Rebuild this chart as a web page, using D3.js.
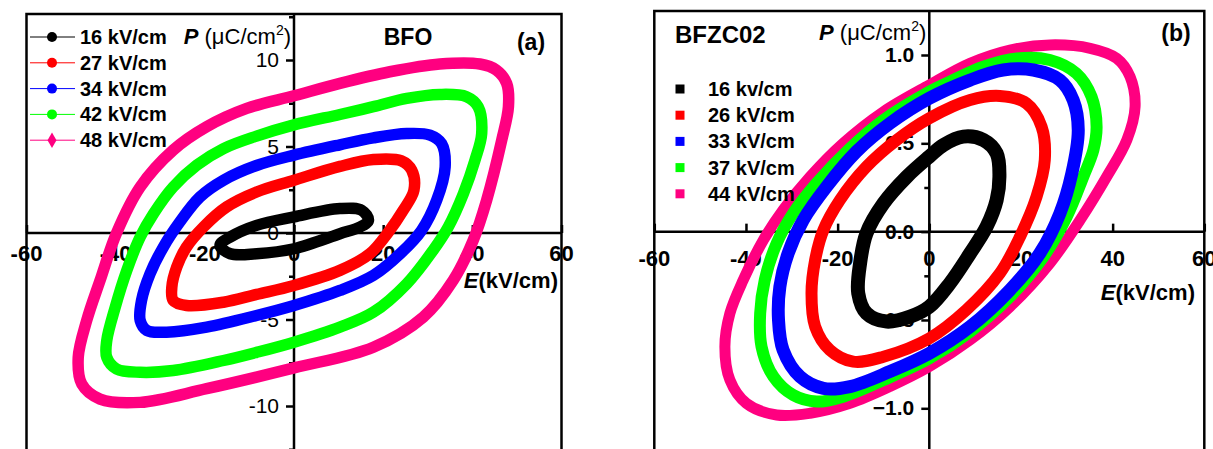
<!DOCTYPE html>
<html><head><meta charset="utf-8">
<script src="https://cdn.jsdelivr.net/npm/d3@7"></script>
<style>
body{margin:0;background:#fff}
svg{display:block}
text{font-family:"Liberation Sans",Arial,sans-serif}
</style>
</head><body>
<svg id="chart" width="1213" height="449"></svg>
<script>
// ---------- data ----------
const xTicks = [-60, -40, -20, 0, 20, 40, 60];
const yTicksA = [-10, -5, 0, 5, 10];
const yMinorA = [-12.5, -7.5, -2.5, 2.5, 7.5, 12.5];
const yTicksB = [-1.0, -0.5, 0.0, 0.5, 1.0];
const yMinorB = [-0.75, -0.25, 0.25, 0.75];
const seriesA = ["16 kV/cm", "27 kV/cm", "34 kV/cm", "42 kV/cm", "48 kV/cm"];
const seriesB = ["16 kv/cm", "26 kV/cm", "33 kV/cm", "37 kV/cm", "44 kV/cm"];
const colors = ["#000000", "#ff0000", "#0000ff", "#00ff00", "#ff0080"];

// Panel (a) BFO loops: [E (kV/cm), P (uC/cm2)]
const loopA16 = [[16.7,0.73],[15.2,1.31],[10.3,1.41],[0,0.93],[-8.4,0.44],[-14.3,-0.23],[-16.6,-0.71],[-14.3,-1.2],[-8.4,-1.2],[0,-0.91],[10.3,-0.04],[14.8,0.35]];
const loopA27 = [[26.9,2.47],[26.4,3.63],[24.1,4.17],[17.8,4.25],[10.3,3.85],[0,3.05],[-8.4,2.37],[-15.1,1.51],[-20.3,0.35],[-24.1,-0.81],[-26.3,-1.97],[-27.4,-3.13],[-27.1,-3.9],[-24.1,-4.19],[-15.8,-4.0],[-8.4,-3.55],[0,-3.03],[10.3,-2.16],[17.0,-1.2],[21.2,0.06],[24.5,1.31]];
const loopA34 = [[33.9,3.82],[33.1,5.17],[30.5,5.66],[25.3,5.75],[17.8,5.5],[10.3,5.1],[0,4.5],[-8.4,3.9],[-15.8,3.05],[-21.1,2.08],[-25.6,0.64],[-29.3,-0.81],[-32.3,-2.36],[-34.2,-3.9],[-34.5,-5.06],[-33.0,-5.64],[-28.6,-5.73],[-19.6,-5.44],[-8.4,-4.77],[0,-4.19],[10.3,-3.32],[17.8,-2.45],[23.8,-1.2],[28.6,0.15],[32.0,1.89]];
const loopA42 = [[42.1,5.75],[41.3,7.3],[38.7,7.88],[32.7,8.01],[25.3,7.78],[17.8,7.3],[10.3,6.85],[0,6.25],[-8.4,5.6],[-15.8,4.88],[-21.8,3.92],[-27.1,2.66],[-31.5,1.12],[-34.5,-0.23],[-37.5,-2.16],[-40.1,-4.29],[-42,-6.22],[-42,-7.18],[-39.8,-7.86],[-34.5,-8.05],[-27.1,-7.95],[-15.8,-7.37],[-8.4,-6.9],[0,-6.31],[10.3,-5.44],[17.8,-4.58],[25.3,-2.93],[31.2,-1.0],[34.6,0.35],[38.0,2.28],[40.6,4.21]];
const loopA48 = [[48.1,7.3],[47.7,8.65],[45.4,9.42],[41.7,9.77],[32.7,9.77],[21.5,9.32],[10.3,8.65],[0,7.93],[-10.6,7.2],[-19.6,6.14],[-27.1,4.79],[-34.5,2.66],[-39.8,0],[-43.5,-2.74],[-46.5,-5.06],[-48.4,-7.2],[-47.6,-8.73],[-43.5,-9.6],[-34.5,-9.79],[-19.6,-9.0],[0,-7.8],[17.8,-6.6],[29.0,-4.86],[35.7,-2.74],[40.2,-0.42],[43.2,1.89],[46.6,5.37]];

// Panel (b) BFZC02 loops
const loopB16 = [[15.3,0.311],[14.7,0.443],[11.8,0.519],[7.4,0.538],[3.1,0.491],[0,0.425],[-4.9,0.311],[-10,0.16],[-13.7,-0.009],[-15.1,-0.179],[-15.5,-0.349],[-13.7,-0.462],[-9.3,-0.509],[-4.2,-0.481],[0,-0.425],[4.5,-0.292],[8.9,-0.123],[12.5,0.028],[14.7,0.179]];
const loopB26 = [[25.2,0.406],[24.5,0.594],[21.2,0.726],[15.4,0.768],[8.9,0.745],[0,0.642],[-7.1,0.519],[-13.7,0.368],[-19.5,0.179],[-23.1,0.009],[-24.9,-0.16],[-25.7,-0.349],[-24.9,-0.538],[-21.7,-0.67],[-16.6,-0.736],[-10,-0.708],[0,-0.604],[8.1,-0.443],[15.4,-0.236],[19.8,-0.028],[23.4,0.198]];
const loopB33 = [[32.5,0.575],[31.4,0.745],[28.5,0.858],[22.7,0.915],[16.1,0.915],[8.9,0.858],[0,0.755],[-8.6,0.613],[-15.9,0.453],[-22.4,0.255],[-27.5,0.066],[-30.8,-0.123],[-32.6,-0.311],[-32.9,-0.5],[-31.9,-0.67],[-28.2,-0.821],[-23.1,-0.887],[-17.3,-0.877],[-8.6,-0.792],[0,-0.689],[8.9,-0.538],[17.6,-0.33],[24.1,-0.123],[28.5,0.104],[31.1,0.33]];
const loopB37 = [[36.5,0.594],[35.4,0.764],[32.1,0.896],[26.3,0.972],[19.1,0.981],[11.8,0.934],[4.5,0.849],[0,0.792],[-10,0.632],[-17.3,0.472],[-24.6,0.274],[-29.7,0.104],[-33.3,-0.066],[-35.9,-0.274],[-36.9,-0.462],[-36.6,-0.651],[-34.0,-0.821],[-29.7,-0.925],[-24.6,-0.962],[-18.8,-0.934],[-10,-0.84],[0,-0.717],[8.9,-0.566],[17.6,-0.368],[24.9,-0.142],[30.0,0.085],[33.6,0.311],[35.8,0.462]];
const loopB44 = [[44.9,0.708],[43.8,0.877],[40.9,0.981],[35.1,1.038],[26.3,1.057],[17.6,1.028],[8.9,0.953],[0,0.83],[-10,0.679],[-18.8,0.5],[-26.0,0.311],[-31.9,0.123],[-36.2,-0.047],[-40.6,-0.274],[-43.5,-0.462],[-44.6,-0.651],[-43.5,-0.84],[-39.9,-0.972],[-33.3,-1.038],[-26.0,-1.028],[-17.3,-0.972],[-8.6,-0.877],[0,-0.764],[8.9,-0.613],[17.6,-0.425],[26.3,-0.179],[32.9,0.066],[38.7,0.311],[43.1,0.519]];

const loopsA = [loopA16, loopA27, loopA34, loopA42, loopA48];
const loopsB = [loopB16, loopB26, loopB33, loopB37, loopB44];

// ---------- drawing ----------
const svg = d3.select("#chart");

function panel(cfg) {
  const g = svg.append("g");
  const x = d3.scaleLinear().domain([-60, 60]).range(cfg.xr);
  const y = d3.scaleLinear().domain(cfg.yd).range(cfg.yr);
  const top = cfg.frameTop, bottom = 470;
  g.append("rect").attr("x", x(-60)).attr("y", top).attr("width", x(60) - x(-60)).attr("height", bottom - top)
    .attr("fill", "none").attr("stroke", "#000").attr("stroke-width", 2.5);
  g.append("line").attr("x1", x(-60)).attr("x2", x(60)).attr("y1", y(0)).attr("y2", y(0)).attr("stroke", "#000").attr("stroke-width", 2.5);
  g.append("line").attr("x1", x(0)).attr("x2", x(0)).attr("y1", top).attr("y2", bottom).attr("stroke", "#000").attr("stroke-width", 2.5);

  const xa = g.append("g").attr("transform", `translate(0,${y(0)})`)
    .call(d3.axisTop(x).tickValues(xTicks).tickSize(8).tickFormat(""));
  xa.select(".domain").remove();
  xa.selectAll("line").attr("stroke-width", 2.5);
  g.selectAll(null).data(xTicks).enter().append("text")
    .attr("x", d => x(d)).attr("y", y(0) + cfg.xLabDy).attr("text-anchor", "middle")
    .attr("font-size", cfg.xTickFs).attr("font-weight", "bold").text(d => d);

  const ya = g.append("g").attr("transform", `translate(${x(0)},0)`)
    .call(d3.axisLeft(y).tickValues(cfg.yTicks).tickSize(8).tickFormat(""));
  ya.select(".domain").remove();
  ya.selectAll("line").attr("stroke-width", 2.5);
  const ym = g.append("g").attr("transform", `translate(${x(0)},0)`)
    .call(d3.axisLeft(y).tickValues(cfg.yMinor).tickSize(5).tickFormat(""));
  ym.select(".domain").remove();
  ym.selectAll("line").attr("stroke-width", 2.5);
  g.selectAll(null).data(cfg.yTicks).enter().append("text")
    .attr("x", x(0) - 15).attr("y", d => y(d) + 7).attr("text-anchor", "end")
    .attr("font-size", cfg.yTickFs).attr("font-weight", cfg.yTickW).text(cfg.yFmt);

  const line = d3.line().x(d => x(d[0])).y(d => y(d[1])).curve(d3.curveCatmullRomClosed.alpha(0.5));
  cfg.order.forEach(i => {
    g.append("path").attr("d", line(cfg.loops[i])).attr("fill", "none")
      .attr("stroke", colors[i]).attr("stroke-width", cfg.sw[i]).attr("stroke-linejoin", "round");
  });

  const pl = g.append("text").attr("x", x(0) - 3).attr("y", cfg.pY).attr("text-anchor", "end").attr("font-size", 22);
  pl.append("tspan").attr("font-weight", "bold").attr("font-style", "italic").text("P");
  pl.append("tspan").text(" (\u03bcC/cm");
  pl.append("tspan").attr("font-size", 14).attr("dy", -9).text("2");
  pl.append("tspan").attr("dy", 9).text(")");
  const el = g.append("text").attr("x", cfg.eX).attr("y", cfg.eY).attr("text-anchor", "end").attr("font-size", 22).attr("font-weight", "bold");
  el.append("tspan").attr("font-style", "italic").text("E");
  el.append("tspan").text("(kV/cm)");
  return {g, x, y};
}

// Panel (a)
const A = panel({
  xr: [26.5, 561.5], yd: [-10, 10], yr: [406, 60], frameTop: 14,
  yTicks: yTicksA, yMinor: yMinorA, yFmt: d => d, yTickFs: 21, yTickW: "normal",
  xTickFs: 22, xLabDy: 28,
  loops: loopsA, order: [0, 1, 2, 3, 4], sw: [11.5, 11.5, 11.5, 11.5, 11.5],
  pY: 44, eX: 558, eY: 288
});
A.g.append("text").attr("x", 408).attr("y", 45).attr("text-anchor", "middle").attr("font-size", 23).attr("font-weight", "bold").text("BFO");
A.g.append("text").attr("x", 531).attr("y", 50).attr("text-anchor", "middle").attr("font-size", 23).attr("font-weight", "bold").text("(a)");
seriesA.forEach((s, i) => {
  const yy = 37 + i * 25.8;
  A.g.append("line").attr("x1", 30).attr("x2", 75).attr("y1", yy).attr("y2", yy).attr("stroke", colors[i]).attr("stroke-width", 1);
  if (i === 4) {
    A.g.append("path").attr("d", d3.symbol(d3.symbolDiamond, 70)()).attr("transform", `translate(52,${yy})`).attr("fill", colors[i]);
  } else {
    A.g.append("circle").attr("cx", 52).attr("cy", yy).attr("r", 5).attr("fill", colors[i]);
  }
  A.g.append("text").attr("x", 80).attr("y", yy + 7).attr("font-size", 20).attr("font-weight", "bold").text(s);
});

// Panel (b)
const B = panel({
  xr: [654.3, 1204.3], yd: [-1, 1], yr: [408.3, 55], frameTop: 11,
  yTicks: yTicksB, yMinor: yMinorB, yFmt: d3.format(".1f"), yTickFs: 21, yTickW: "bold",
  xTickFs: 22, xLabDy: 34,
  loops: loopsB, order: [4, 3, 2, 1, 0], sw: [14, 12, 13, 12, 11],
  pY: 40, eX: 1195, eY: 300
});
B.g.append("text").attr("x", 675).attr("y", 43).attr("font-size", 24).attr("font-weight", "bold").text("BFZC02");
B.g.append("text").attr("x", 1176).attr("y", 41).attr("text-anchor", "middle").attr("font-size", 23).attr("font-weight", "bold").text("(b)");
seriesB.forEach((s, i) => {
  const yy = 89 + i * 26.2;
  B.g.append("rect").attr("x", 675.5).attr("y", yy - 4.5).attr("width", 9).attr("height", 9).attr("fill", colors[i]);
  B.g.append("text").attr("x", 708).attr("y", yy + 7).attr("font-size", 20).attr("font-weight", "bold").text(s);
});
</script>
</body></html>
